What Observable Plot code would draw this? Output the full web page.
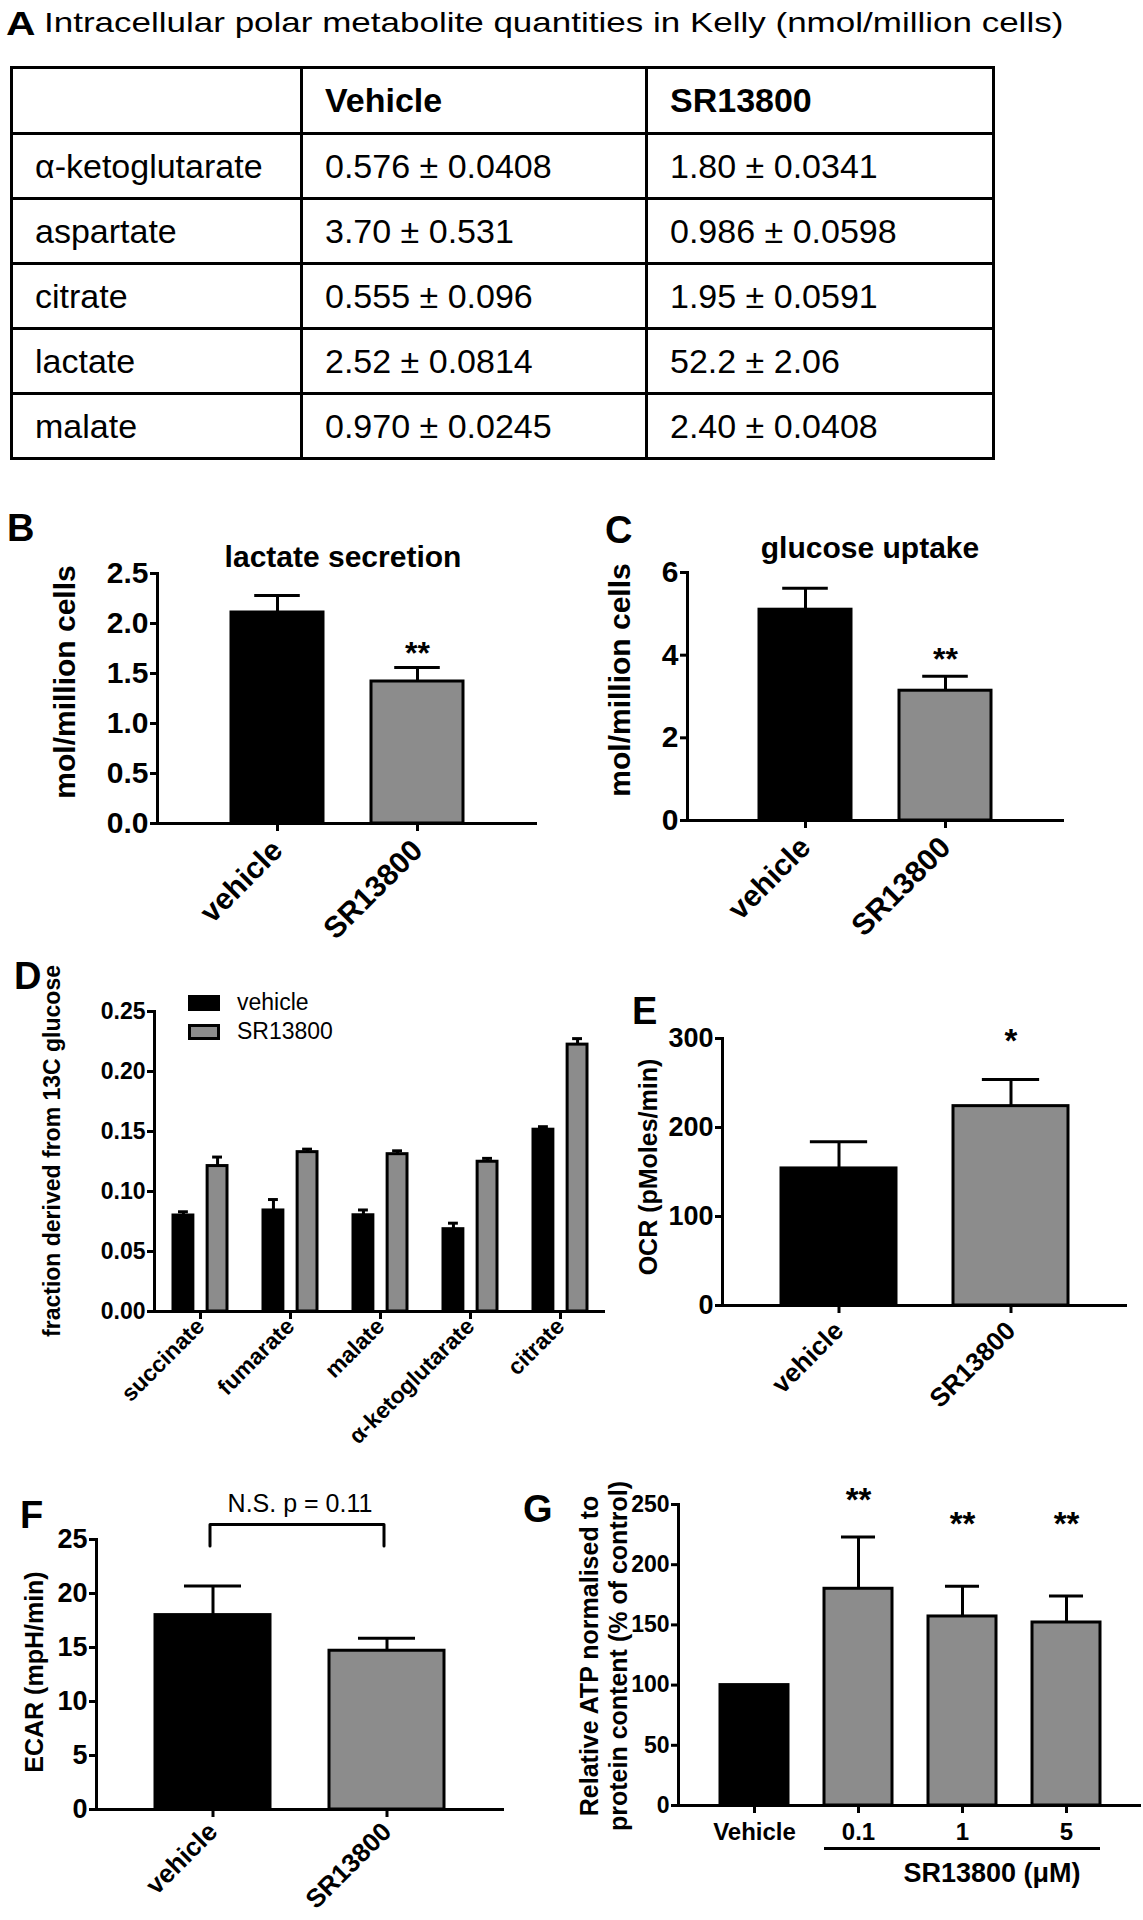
<!DOCTYPE html>
<html><head><meta charset="utf-8">
<script src="https://cdn.jsdelivr.net/npm/d3@7"></script>
<script src="https://cdn.jsdelivr.net/npm/@observablehq/plot@0.6"></script>
<style>
body{margin:0;background:#fff;}
#fig{position:relative;width:1143px;height:1920px;background:#fff;font-family:"Liberation Sans",Arial,sans-serif;color:#000;overflow:hidden;}
#fig svg{position:absolute;overflow:visible;}
table.t{position:absolute;left:10px;top:66px;border-collapse:collapse;font-size:34px;table-layout:fixed;}
table.t td{border:3px solid #000;padding:0 0 0 22px;white-space:nowrap;vertical-align:middle;}
table.t tr{height:65px;}
</style>
</head><body><div id="fig"></div>
<script>
// ---------- DATA ----------
// Panel A
const tableTitle = "Intracellular polar metabolite quantities in Kelly (nmol/million cells)";
const tableHeader = ["", "Vehicle", "SR13800"];
const metabolites = ["α-ketoglutarate", "aspartate", "citrate", "lactate", "malate"];
const vehicleQty = ["0.576 ± 0.0408", "3.70 ± 0.531", "0.555 ± 0.096", "2.52 ± 0.0814", "0.970 ± 0.0245"];
const srQty = ["1.80 ± 0.0341", "0.986 ± 0.0598", "1.95 ± 0.0591", "52.2 ± 2.06", "2.40 ± 0.0408"];

// Panel B, C, E, F
const treatments = ["vehicle", "SR13800"];
const lactateMean = [2.11, 1.42];
const lactateSem = [0.17, 0.14];
const lactateSig = ["", "**"];
const lactateTicks = [0, 0.5, 1.0, 1.5, 2.0, 2.5];

const glucoseMean = [5.10, 3.14];
const glucoseSem = [0.52, 0.35];
const glucoseSig = ["", "**"];
const glucoseTicks = [0, 2, 4, 6];

const ocrMean = [154, 224];
const ocrSem = [30, 30];
const ocrSig = ["", "*"];
const ocrTicks = [0, 100, 200, 300];

const ecarMean = [18.0, 14.7];
const ecarSem = [2.7, 1.15];
const ecarTicks = [0, 5, 10, 15, 20, 25];
const ecarNote = "N.S. p = 0.11";

// Panel D
const dCats = ["succinate", "fumarate", "malate", "α-ketoglutarate", "citrate"];
const dVehicle = [0.0800, 0.0842, 0.0802, 0.0686, 0.1515];
const dVehicleSem = [0.0031, 0.0091, 0.0044, 0.0050, 0.0025];
const dSR = [0.1212, 0.1328, 0.1311, 0.1248, 0.2224];
const dSRSem = [0.0075, 0.0025, 0.0028, 0.0028, 0.0050];
const dTicks = [0, 0.05, 0.10, 0.15, 0.20, 0.25];
const dSeries = ["vehicle", "SR13800"];

// Panel G
const atpCats = ["Vehicle", "0.1", "1", "5"];
const atpMean = [100, 180, 157, 152];
const atpSem = [0, 43, 25, 22];
const atpSig = ["", "**", "**", "**"];
const atpSigLevel = [null, 255, 235, 235];
const atpTicks = [0, 50, 100, 150, 200, 250];

const BLACK = "#000000", GRAY = "#8c8c8c";
const FONT = "'Liberation Sans', Arial, sans-serif";

// ---------- HELPERS ----------
const fig = document.getElementById("fig");
function addText(str, x, baseline, fs, o = {}) {
  const d = document.createElement("div");
  d.textContent = str;
  Object.assign(d.style, {position: "absolute", left: x + "px", top: (baseline - 0.8465 * fs) + "px",
    fontSize: fs + "px", lineHeight: "1", fontWeight: o.bold ? "bold" : "normal", whiteSpace: "nowrap"});
  let tf = "";
  if (o.anchor === "middle") tf += "translateX(-50%) ";
  if (o.scaleX) { d.style.transformOrigin = "left center"; tf += `scaleX(${o.scaleX})`; }
  if (tf) d.style.transform = tf;
  fig.appendChild(d);
  return d;
}
function addVText(lines, cx, cy, fs, lh) {
  const d = document.createElement("div");
  d.innerHTML = lines.map(s => s.replace(/&/g, "&amp;").replace(/</g, "&lt;")).join("<br>");
  Object.assign(d.style, {position: "absolute", left: cx + "px", top: cy + "px", fontSize: fs + "px",
    lineHeight: (lh || fs) + "px", fontWeight: "bold", whiteSpace: "nowrap", textAlign: "center",
    transform: "translate(-50%,-50%) rotate(-90deg)"});
  fig.appendChild(d);
}
function place(svg, left, top) {
  svg.style.position = "absolute";
  svg.style.left = left + "px";
  svg.style.top = top + "px";
  fig.appendChild(svg);
}

function barChart(c) {
  const n = c.cats.length;
  const data = c.cats.map((cat, i) => ({cat, val: c.mean[i], err: c.sem[i], fill: c.fills[i],
    sig: c.sig ? c.sig[i] : "", sigY: c.sigLevel ? c.sigLevel[i] : null}));
  const plotW = c.width - c.mL - c.mR;
  const step = plotW / (n - c.pi + 2 * c.po);
  const bw = step * (1 - c.pi);
  const withErr = data.filter(d => d.err > 0);
  const marks = [
    Plot.barY(data, {x: "cat", y: "val", fill: "fill", stroke: BLACK, strokeWidth: 3}),
    Plot.ruleX(withErr, {x: "cat", y1: "val", y2: d => d.val + d.err, stroke: BLACK, strokeWidth: 3}),
    Plot.tickY(withErr, {x: "cat", y: d => d.val + d.err, stroke: BLACK, strokeWidth: 3, insetLeft: bw / 4, insetRight: bw / 4}),
    Plot.text(data.filter(d => d.sig), {x: "cat", y: d => d.sigY != null ? d.sigY : d.val + d.err, text: "sig",
      dy: c.sigDy, fontSize: c.sigFs, fontWeight: "bold"}),
    Plot.axisY({ticks: c.ticks, tickFormat: c.fmt, tickSize: 7, tickPadding: 2, fontSize: c.fs, strokeWidth: 3, label: null}),
    Plot.axisX({tickSize: 8, tickPadding: c.xPad, tickRotate: c.rotate || 0, fontSize: c.xfs, strokeWidth: 3, label: null}),
    Plot.ruleY([c.domain[0]], {stroke: BLACK, strokeWidth: 3}),
    Plot.frame({anchor: "left", stroke: BLACK, strokeWidth: 3})
  ];
  if (c.extra) marks.push(...c.extra);
  return Plot.plot({
    width: c.width, height: c.height,
    marginLeft: c.mL, marginRight: c.mR, marginTop: c.mT, marginBottom: c.mB,
    x: {domain: c.cats, paddingInner: c.pi, paddingOuter: c.po},
    y: {domain: c.domain},
    color: {type: "identity"},
    style: {fontFamily: FONT, fontWeight: "bold", background: "transparent", overflow: "visible", color: "#000"},
    marks
  });
}

// ---------- PANEL A ----------
addText("A", 6, 35, 34, {bold: true, scaleX: 1.2});
addText(tableTitle, 44, 33, 28, {scaleX: 1.25});
const tbl = document.createElement("table");
tbl.className = "t";
const colW = [290, 345, 347];
const cg = document.createElement("colgroup");
colW.forEach(w => { const col = document.createElement("col"); col.style.width = w + "px"; cg.appendChild(col); });
tbl.appendChild(cg);
const rows = [tableHeader].concat(metabolites.map((m, i) => [m, vehicleQty[i], srQty[i]]));
rows.forEach((r, ri) => {
  const tr = document.createElement("tr");
  if (ri === 0) tr.style.height = "66px";
  r.forEach(v => {
    const td = document.createElement("td");
    td.textContent = v;
    if (ri === 0) td.style.fontWeight = "bold";
    tr.appendChild(td);
  });
  tbl.appendChild(tr);
});
fig.appendChild(tbl);

// ---------- PANEL B ----------
addText("B", 7, 541, 38, {bold: true});
addText("lactate secretion", 343, 567, 30, {bold: true, anchor: "middle"});
addVText(["mol/million cells"], 65, 682, 30);
place(barChart({cats: treatments, mean: lactateMean, sem: lactateSem, fills: [BLACK, GRAY], sig: lactateSig,
  domain: [0, 2.5], ticks: lactateTicks, fmt: d => d.toFixed(1),
  width: 560, height: 420, mL: 157, mR: 23, mT: 33, mB: 137, pi: 0.34, po: 0.52,
  fs: 30, xfs: 30, xPad: 14, rotate: -45, sigDy: -14, sigFs: 32}), 0, 540);

// ---------- PANEL C ----------
addText("C", 605, 543, 38, {bold: true});
addText("glucose uptake", 870, 558, 30, {bold: true, anchor: "middle"});
addVText(["mol/million cells"], 620, 680, 30);
place(barChart({cats: treatments, mean: glucoseMean, sem: glucoseSem, fills: [BLACK, GRAY], sig: glucoseSig,
  domain: [0, 6], ticks: glucoseTicks, fmt: d => String(d),
  width: 563, height: 420, mL: 107, mR: 79, mT: 32, mB: 140, pi: 0.34, po: 0.51,
  fs: 30, xfs: 30, xPad: 14, rotate: -45, sigDy: -16, sigFs: 32}), 580, 540);

// ---------- PANEL D ----------
addText("D", 14, 989, 38, {bold: true});
addVText(["fraction derived from 13C glucose"], 52, 1151, 23);
(function () {
  const width = 620, height = 460, mL = 154, mR = 15, mT = 31, mB = 129;
  const pi = 0.4, po = 0.2, n = dCats.length;
  const step = (width - mL - mR) / (n - pi + 2 * po);
  const bw = step * (1 - pi);
  const barW = 20, cap = 10;
  const off = bw / 2 - barW / 2;
  const data = dCats.map((cat, i) => ({cat, veh: dVehicle[i], vehErr: dVehicleSem[i], sr: dSR[i], srErr: dSRSem[i]}));
  const capInset = bw / 2 - cap / 2;
  const svg = Plot.plot({
    width, height, marginLeft: mL, marginRight: mR, marginTop: mT, marginBottom: mB,
    x: {domain: dCats, paddingInner: pi, paddingOuter: po},
    y: {domain: [0, 0.25]},
    style: {fontFamily: FONT, fontWeight: "bold", background: "transparent", overflow: "visible", color: "#000"},
    marks: [
      Plot.barY(data, {x: "cat", y: "veh", fill: BLACK, stroke: BLACK, strokeWidth: 3, insetRight: bw - barW}),
      Plot.barY(data, {x: "cat", y: "sr", fill: GRAY, stroke: BLACK, strokeWidth: 3, insetLeft: bw - barW}),
      Plot.ruleX(data, {x: "cat", y1: "veh", y2: d => d.veh + d.vehErr, dx: -off, stroke: BLACK, strokeWidth: 3}),
      Plot.tickY(data, {x: "cat", y: d => d.veh + d.vehErr, dx: -off, insetLeft: capInset, insetRight: capInset, stroke: BLACK, strokeWidth: 3}),
      Plot.ruleX(data, {x: "cat", y1: "sr", y2: d => d.sr + d.srErr, dx: off, stroke: BLACK, strokeWidth: 3}),
      Plot.tickY(data, {x: "cat", y: d => d.sr + d.srErr, dx: off, insetLeft: capInset, insetRight: capInset, stroke: BLACK, strokeWidth: 3}),
      Plot.axisY({ticks: dTicks, tickFormat: d => d.toFixed(2), tickSize: 7, tickPadding: 2, fontSize: 23, strokeWidth: 3, label: null}),
      Plot.axisX({tickSize: 8, tickPadding: 3, tickRotate: -45, fontSize: 23, strokeWidth: 3, label: null}),
      Plot.ruleY([0], {stroke: BLACK, strokeWidth: 3}),
      Plot.frame({anchor: "left", stroke: BLACK, strokeWidth: 3})
    ]
  });
  place(svg, 0, 980);
})();
// legend D
(function () {
  const sw = [[BLACK, 995], [GRAY, 1024]];
  sw.forEach(([f, y], i) => {
    const r = document.createElement("div");
    Object.assign(r.style, {position: "absolute", left: "188px", top: y + "px", width: "26px", height: "10px",
      background: f, border: "3px solid #000"});
    fig.appendChild(r);
    addText(dSeries[i], 237, y + 15, 23);
  });
})();

// ---------- PANEL E ----------
addText("E", 632, 1024, 38, {bold: true});
addVText(["OCR (pMoles/min)"], 648, 1167, 25);
place(barChart({cats: treatments, mean: ocrMean, sem: ocrSem, fills: [BLACK, GRAY], sig: ocrSig,
  domain: [0, 300], ticks: ocrTicks, fmt: d => String(d),
  width: 543, height: 420, mL: 122, mR: 16, mT: 28, mB: 125, pi: 0.33, po: 0.34,
  fs: 27, xfs: 26, xPad: 13, rotate: -45, sigDy: -38, sigFs: 33}), 600, 1010);

// ---------- PANEL F ----------
addText("F", 20, 1528, 38, {bold: true});
addVText(["ECAR (mpH/min)"], 34, 1672, 25);
addText(ecarNote, 300, 1512, 25, {anchor: "middle"});
const bracket = [
  {cat: treatments[0], y: 24.4}, {cat: treatments[0], y: 26.4},
  {cat: treatments[1], y: 26.4}, {cat: treatments[1], y: 24.4}
];
place(barChart({cats: treatments, mean: ecarMean, sem: ecarSem, fills: [BLACK, GRAY],
  domain: [0, 25], ticks: ecarTicks, fmt: d => String(d),
  width: 560, height: 420, mL: 96, mR: 56, mT: 39, mB: 111, pi: 0.337, po: 0.335,
  fs: 27, xfs: 26, xPad: 10, rotate: -45, sigDy: 0, sigFs: 30,
  extra: [Plot.line(bracket, {x: "cat", y: "y", dx: -3, stroke: BLACK, strokeWidth: 3, clip: false})]}), 0, 1500);

// ---------- PANEL G ----------
addText("G", 523, 1522, 38, {bold: true});
addVText(["Relative ATP normalised to", "protein content (% of control)"], 603, 1656, 25, 28.5);
place(barChart({cats: atpCats, mean: atpMean, sem: atpSem, fills: [BLACK, GRAY, GRAY, GRAY], sig: atpSig, sigLevel: atpSigLevel,
  domain: [0, 250], ticks: atpTicks, fmt: d => String(d),
  width: 583, height: 450, mL: 118, mR: 2, mT: 34, mB: 115, pi: 0.35, po: 0.39,
  fs: 23, xfs: 24, xPad: 9, rotate: 0, sigDy: 2, sigFs: 33,
  extra: [Plot.ruleY([0], {x1: () => atpCats[1], x2: () => atpCats[3], dy: 43, stroke: BLACK, strokeWidth: 3})]}), 560, 1470);
addText("SR13800 (μM)", 992, 1883, 27, {bold: true, anchor: "middle"});
</script>
</body></html>
